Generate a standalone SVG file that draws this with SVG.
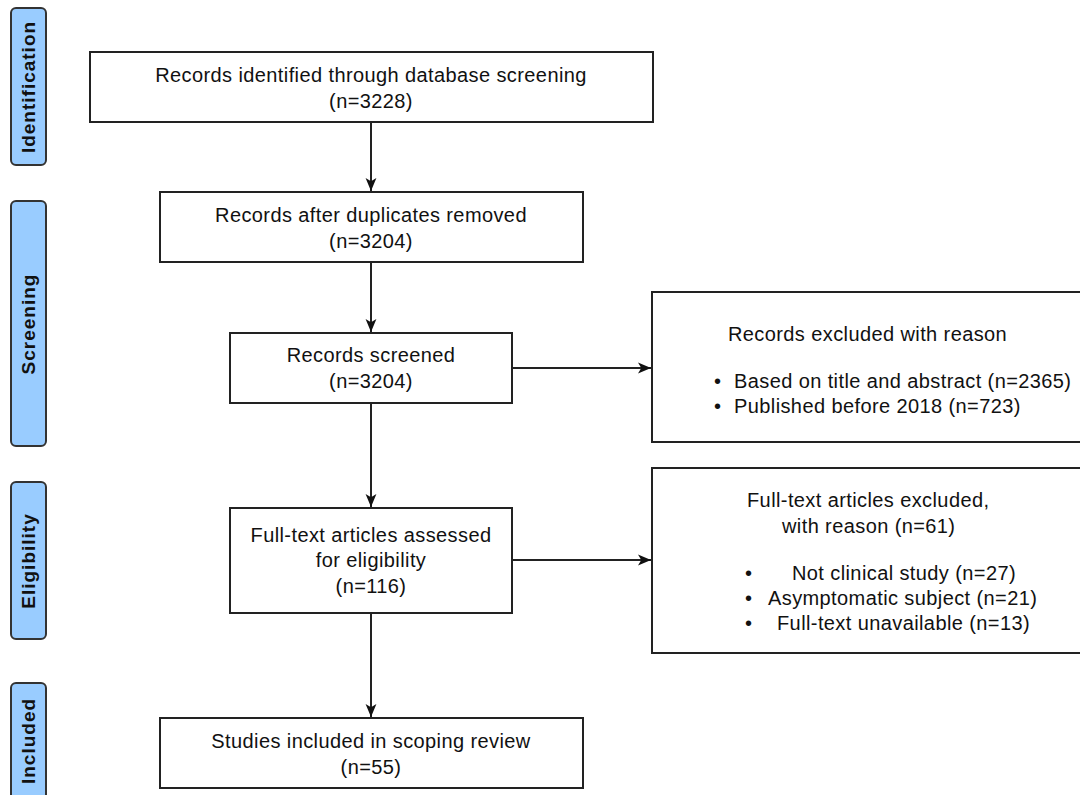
<svg xmlns="http://www.w3.org/2000/svg" width="1080" height="795" viewBox="0 0 1080 795">
<style>
.box{fill:#fff;stroke:#222;stroke-width:2}
.side{fill:#99ccff;stroke:#333;stroke-width:2}
.t{font-family:"Liberation Sans",Arial,sans-serif;font-size:20px;letter-spacing:0.4px;fill:#111;text-anchor:middle}
.s{font-family:"Liberation Sans",Arial,sans-serif;font-size:19px;letter-spacing:1px;font-weight:bold;fill:#111;text-anchor:middle}
.l{font-family:"Liberation Sans",Arial,sans-serif;font-size:20px;letter-spacing:0.4px;fill:#111}
.c{stroke:#222;stroke-width:2;fill:none;marker-end:url(#ah)}
</style>
<defs>
<marker id="ah" viewBox="0 0 12 12" refX="12" refY="6" markerWidth="13" markerHeight="13" markerUnits="userSpaceOnUse" orient="auto">
<path d="M0,1 L12,6 L0,11 L3,6 Z" fill="#111"/>
</marker>
</defs>
<rect width="1080" height="795" fill="#fff"/>
<g id="stage-identification"><rect class="side" x="11" y="8" width="35" height="157" rx="5"/><text class="s" transform="translate(35,87) rotate(-90)">Identification</text></g>
<g id="stage-screening"><rect class="side" x="11" y="201" width="35" height="245" rx="5"/><text class="s" transform="translate(35,324) rotate(-90)">Screening</text></g>
<g id="stage-eligibility"><rect class="side" x="11" y="482" width="35" height="157" rx="5"/><text class="s" transform="translate(35,561) rotate(-90)">Eligibility</text></g>
<g id="stage-included"><rect class="side" x="11" y="683" width="35" height="130" rx="5"/><text class="s" transform="translate(35,741) rotate(-90)">Included</text></g>
<g id="connectors">
<line class="c" x1="371" y1="122" x2="371" y2="191"/>
<line class="c" x1="371" y1="262" x2="371" y2="332"/>
<line class="c" x1="371" y1="403" x2="371" y2="507"/>
<line class="c" x1="371" y1="613" x2="371" y2="717"/>
<line class="c" x1="512" y1="368" x2="651" y2="368"/>
<line class="c" x1="512" y1="560" x2="651" y2="560"/>
</g>
<g id="n1"><rect class="box" x="90" y="52" width="563" height="70"/><text class="t" x="371" y="82">Records identified through database screening</text><text class="t" x="371" y="108">(n=3228)</text></g>
<g id="n2"><rect class="box" x="160" y="192" width="423" height="70"/><text class="t" x="371" y="222">Records after duplicates removed</text><text class="t" x="371" y="248">(n=3204)</text></g>
<g id="n3"><rect class="box" x="230" y="333" width="282" height="70"/><text class="t" x="371" y="362">Records screened</text><text class="t" x="371" y="388">(n=3204)</text></g>
<g id="n4"><rect class="box" x="230" y="508" width="282" height="105"/><text class="t" x="371" y="542">Full-text articles assessed</text><text class="t" x="371" y="567">for eligibility</text><text class="t" x="371" y="593">(n=116)</text></g>
<g id="n5"><rect class="box" x="160" y="718" width="423" height="70"/><text class="t" x="371" y="748">Studies included in scoping review</text><text class="t" x="371" y="774">(n=55)</text></g>
<g id="x1"><rect class="box" x="652" y="292" width="440" height="150"/>
<text class="l" x="728" y="341">Records excluded with reason</text>
<text class="l" x="714" y="388">•</text><text class="l" x="734" y="388">Based on title and abstract (n=2365)</text>
<text class="l" x="714" y="413">•</text><text class="l" x="734" y="413">Published before 2018 (n=723)</text>
</g>
<g id="x2"><rect class="box" x="652" y="468" width="440" height="185"/>
<text class="l" x="747" y="507">Full-text articles excluded,</text>
<text class="l" x="782" y="533">with reason (n=61)</text>
<text class="l" x="745" y="580">•</text><text class="l" x="792" y="580">Not clinical study (n=27)</text>
<text class="l" x="745" y="605">•</text><text class="l" x="768" y="605">Asymptomatic subject (n=21)</text>
<text class="l" x="745" y="630">•</text><text class="l" x="777" y="630">Full-text unavailable (n=13)</text>
</g>
</svg>
